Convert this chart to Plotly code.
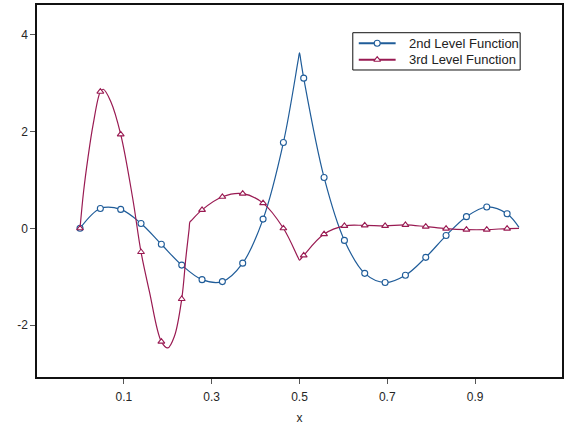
import plotly.graph_objects as go

# marker sample positions (shared by both series)
x_markers = [0.0, 0.0463, 0.0927, 0.1390, 0.1853, 0.2317, 0.2780, 0.3243, 0.3706, 0.4170, 0.4633,
             0.5096, 0.5560, 0.6023, 0.6486, 0.6950, 0.7413, 0.7876, 0.8339, 0.8803, 0.9266, 0.9729]

# 2nd level function: values at marker positions
y2_markers = [0.0, 0.41, 0.39, 0.10, -0.33, -0.76, -1.06, -1.10, -0.72, 0.19, 1.77,
              3.10, 1.05, -0.25, -0.93, -1.12, -0.97, -0.60, -0.15, 0.24, 0.44, 0.30]
# 2nd level function: curve points (markers + peak/end readings)
x2_curve = [0.0, 0.0463, 0.0927, 0.1390, 0.1853, 0.2317, 0.2780, 0.3243, 0.3706, 0.4170, 0.4633,
            0.497, 0.500, 0.503, 0.5096, 0.5560, 0.6023, 0.6486, 0.6950, 0.7413, 0.7876, 0.8339,
            0.8803, 0.9266, 0.9729, 1.0]
y2_curve = [0.0, 0.41, 0.39, 0.10, -0.33, -0.76, -1.06, -1.10, -0.72, 0.19, 1.77,
            3.47, 3.62, 3.46, 3.10, 1.05, -0.25, -0.93, -1.12, -0.97, -0.60, -0.15,
            0.24, 0.44, 0.30, 0.02]

# 3rd level function: values at marker positions
y3_markers = [0.0, 2.82, 1.94, -0.49, -2.34, -1.46, 0.38, 0.65, 0.715, 0.52, 0.0,
              -0.56, -0.12, 0.05, 0.06, 0.05, 0.07, 0.035, -0.006, -0.027, -0.027, -0.006]
# 3rd level function: curve points (markers + extrema/corner readings)
x3_curve = [0.0, 0.008, 0.018, 0.030, 0.0463, 0.053, 0.070, 0.0927, 0.120, 0.1390, 0.158, 0.1853,
            0.200, 0.215, 0.2317, 0.241, 0.2485, 0.2503, 0.253, 0.2780, 0.3243, 0.3706, 0.4170, 0.4633,
            0.497, 0.500, 0.503, 0.5096, 0.5560, 0.6023, 0.6486, 0.6950, 0.7413, 0.7876,
            0.8339, 0.8803, 0.9266, 0.9729, 1.0]
y3_curve = [0.0, 0.75, 1.45, 2.15, 2.82, 2.87, 2.62, 1.94, 0.62, -0.49, -1.30, -2.34,
            -2.47, -2.23, -1.46, -0.62, -0.02, 0.13, 0.155, 0.38, 0.65, 0.715, 0.52, 0.0,
            -0.61, -0.66, -0.63, -0.56, -0.12, 0.05, 0.06, 0.05, 0.07, 0.035,
            -0.006, -0.027, -0.027, -0.006, 0.0]

series_names = ["2nd Level Function", "3rd Level Function"]

x_tickvals = [0.1, 0.3, 0.5, 0.7, 0.9]
x_ticktext = ["0.1", "0.3", "0.5", "0.7", "0.9"]
y_tickvals = [-2, 0, 2, 4]
y_ticktext = ["-2", "0", "2", "4"]

BLUE = "#1f5c99"
RED = "#991a52"
FONT = "Liberation Sans, Arial, sans-serif"

fig = go.Figure()

def add_series(name, xc, yc, xm, ym, color, symbol):
    fig.add_trace(go.Scatter(x=xc, y=yc, mode="lines", name=name,
                             line=dict(color=color, width=1.2, shape="spline"),
                             showlegend=False, hoverinfo="skip"))
    fig.add_trace(go.Scatter(x=xm, y=ym, mode="markers", name=name, showlegend=False,
                             marker=dict(symbol=symbol, size=6, color="white",
                                         line=dict(color=color, width=1.1))))

add_series(series_names[0], x2_curve, y2_curve, x_markers, y2_markers, BLUE, "circle")
add_series(series_names[1], x3_curve, y3_curve, x_markers, y3_markers, RED, "triangle-up")

# hand-built legend box (overlay axes spanning the plot area, 0..1 in both directions)
LEG_X0, LEG_X1, LEG_Y0, LEG_Y1 = 0.6015, 0.9203, 0.8253, 0.9255
LEG_ROWS = [0.897, 0.853]
LEG_LINE = [0.6129, 0.6831]
LEG_TEXT_X = 0.704
for name, color, symbol, ry in zip(series_names, [BLUE, RED], ["circle", "triangle-up"], LEG_ROWS):
    fig.add_trace(go.Scatter(x=LEG_LINE, y=[ry, ry], xaxis="x2", yaxis="y2", mode="lines",
                             line=dict(color=color, width=2), showlegend=False, hoverinfo="skip"))
    fig.add_trace(go.Scatter(x=[sum(LEG_LINE) / 2], y=[ry], xaxis="x2", yaxis="y2", mode="markers",
                             marker=dict(symbol=symbol, size=6, color="white",
                                         line=dict(color=color, width=1.1)),
                             showlegend=False, hoverinfo="skip"))
    fig.add_annotation(x=LEG_TEXT_X, y=ry, xref="paper", yref="paper", text=name, showarrow=False,
                       xanchor="left", yanchor="middle", font=dict(size=13, color="#222"))
fig.add_shape(type="rect", xref="paper", yref="paper", x0=LEG_X0, x1=LEG_X1, y0=LEG_Y0, y1=LEG_Y1,
              line=dict(color="#111", width=1), fillcolor="white", layer="below")

fig.update_layout(
    width=565, height=427,
    margin=dict(l=37, r=1, t=5, b=50),
    paper_bgcolor="white", plot_bgcolor="white",
    font=dict(family=FONT, size=12, color="#262626"),
    showlegend=False,
    xaxis=dict(range=[-0.098, 1.098], tickvals=x_tickvals, ticktext=x_ticktext,
               showgrid=False, zeroline=False, showline=True, linecolor="#111", linewidth=1.5,
               mirror=True, ticks="outside", ticklen=5, tickcolor="#555", ticklabelstandoff=3,
               title=dict(text="x", font=dict(size=12), standoff=10)),
    yaxis=dict(range=[-3.07, 4.61], tickvals=y_tickvals, ticktext=y_ticktext,
               showgrid=False, zeroline=False, showline=True, linecolor="#111", linewidth=1.5,
               mirror=True, ticks="outside", ticklen=5, tickcolor="#555"),
    xaxis2=dict(overlaying="x", range=[0, 1], visible=False, fixedrange=True),
    yaxis2=dict(overlaying="y", range=[0, 1], visible=False, fixedrange=True),
)

fig.write_html("out.html", config={"displayModeBar": False},
               post_script="document.body.style.margin='0';document.body.style.overflow='hidden';")
